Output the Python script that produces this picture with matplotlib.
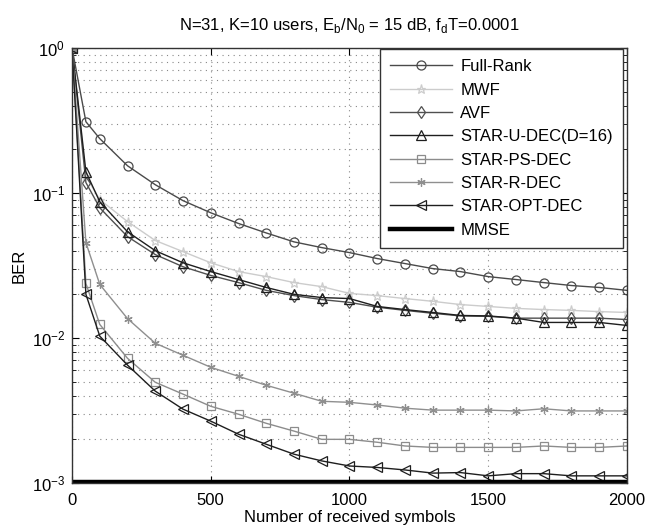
import matplotlib
matplotlib.use("Agg")
import matplotlib.pyplot as plt
from matplotlib.ticker import LogLocator, NullFormatter, FixedLocator

plt.rcParams['font.family'] = ['Liberation Sans', 'DejaVu Sans']

symbols = [0, 50, 100, 200, 300, 400, 500, 600, 700, 800, 900, 1000,
           1100, 1200, 1300, 1400, 1500, 1600, 1700, 1800, 1900, 2000]

full_rank = [1.0, 0.31, 0.237, 0.154, 0.114, 0.0885, 0.073, 0.0616, 0.053, 0.046,
             0.042, 0.0388, 0.0353, 0.0326, 0.0301, 0.0287, 0.0265, 0.0253, 0.0241,
             0.023, 0.0223, 0.0213]
mwf = [1.0, 0.13, 0.09, 0.0635, 0.047, 0.0394, 0.033, 0.0287, 0.0265, 0.0241,
       0.0226, 0.0203, 0.0196, 0.0187, 0.0179, 0.017, 0.0165, 0.016, 0.0157,
       0.0155, 0.0152, 0.015]
avf = [1.0, 0.118, 0.079, 0.050, 0.0376, 0.031, 0.027, 0.0241, 0.0213, 0.0196,
       0.0184, 0.0176, 0.0163, 0.0155, 0.0148, 0.0142, 0.0141, 0.0137, 0.0137,
       0.0137, 0.0137, 0.0134]
star_u = [1.0, 0.14, 0.087, 0.054, 0.040, 0.033, 0.0287, 0.0253, 0.0223, 0.020,
          0.019, 0.0187, 0.0165, 0.0157, 0.015, 0.0143, 0.0142, 0.0137, 0.0128,
          0.0128, 0.0128, 0.0122]
star_ps = [1.0, 0.0238, 0.0124, 0.00724, 0.00495, 0.0041, 0.00338, 0.00298,
           0.00258, 0.00228, 0.002, 0.002, 0.00191, 0.0018, 0.00176, 0.00176,
           0.00176, 0.00176, 0.0018, 0.00176, 0.00176, 0.0018]
star_r = [1.0, 0.0455, 0.0234, 0.0136, 0.0092, 0.0076, 0.00628, 0.00544, 0.00472,
          0.00416, 0.00366, 0.0036, 0.00345, 0.00328, 0.00318, 0.00318, 0.00318,
          0.00314, 0.00325, 0.00314, 0.00314, 0.00314]
star_opt = [1.0, 0.020, 0.0103, 0.0065, 0.0043, 0.00323, 0.00267, 0.00217,
            0.00185, 0.00158, 0.00142, 0.00131, 0.00128, 0.00123, 0.00117,
            0.00118, 0.00112, 0.00116, 0.00116, 0.00112, 0.00112, 0.00112]
mmse = [0.00102] * len(symbols)

fig = plt.figure(figsize=(6.46, 5.27), dpi=100)
ax = fig.add_axes([0.1115, 0.0835, 0.859, 0.8255])

style = dict(fillstyle='none', markersize=6.5, linewidth=1.0, markeredgewidth=0.9)
asterisk = (6, 2, 0)
ax.semilogy(symbols, full_rank, '-o', color='#4a4a4a', label='Full-Rank', **style)
ax.semilogy(symbols, mwf, '-*', color='#cccccc', label='MWF', **style)
ax.semilogy(symbols, avf, '-d', color='#505050', label='AVF', **style)
ax.semilogy(symbols, star_u, '-^', color='#1e1e1e', label='STAR-U-DEC(D=16)', **style)
ax.semilogy(symbols, star_ps, '-s', color='#8c8c8c', label='STAR-PS-DEC',
            **{**style, 'markersize': 5.5})
ax.semilogy(symbols, star_r, '-', marker=asterisk, color='#8f8f8f', label='STAR-R-DEC',
            **{**style, 'markersize': 6})
ax.semilogy(symbols, star_opt, '-<', color='#1e1e1e', label='STAR-OPT-DEC', **style)
ax.semilogy(symbols, mmse, '-', color='black', linewidth=3.2, label='MMSE')

ax.set_xlim(0, 2000)
ax.set_ylim(1e-3, 1)
ax.xaxis.set_major_locator(FixedLocator([0, 500, 1000, 1500, 2000]))
ax.yaxis.set_major_locator(LogLocator(base=10))
ax.yaxis.set_minor_locator(LogLocator(base=10, subs=range(2, 10)))
ax.yaxis.set_minor_formatter(NullFormatter())

ax.grid(True, which='major', axis='both', linestyle=(0, (1, 4)), color='#888888', linewidth=0.8)
ax.grid(True, which='minor', axis='y', linestyle=(0, (1, 4)), color='#888888', linewidth=0.8)

ax.tick_params(which='both', direction='in', top=True, right=True, labelsize=12)
ax.tick_params(which='major', length=5)
ax.tick_params(which='minor', length=3)
ax.tick_params(axis='x', pad=7)
ax.tick_params(axis='y', pad=5)
for s in ax.spines.values():
    s.set_color('#333333')
    s.set_linewidth(1.0)

ax.set_xlabel('Number of received symbols', fontsize=12, labelpad=2)
ax.set_ylabel('BER', fontsize=12, labelpad=4)
ax.set_title(r'N=31, K=10 users, E$_\mathregular{b}$/N$_\mathregular{0}$ = 15 dB, '
             r'f$_\mathregular{d}$T=0.0001', fontsize=12, pad=13)

leg = ax.legend(loc='upper right', fontsize=12, handlelength=3.7, handletextpad=0.5,
                borderpad=0.6, labelspacing=0.5, fancybox=False, framealpha=1,
                borderaxespad=0, bbox_to_anchor=(0.993, 0.997))
leg.get_frame().set_edgecolor('#333333')
leg.get_frame().set_linewidth(1.0)

fig.savefig('out.png', dpi=100)
